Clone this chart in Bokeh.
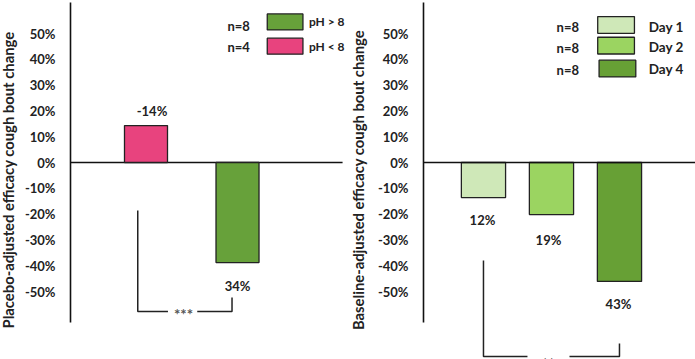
import math
from bokeh.plotting import figure
from bokeh.layouts import row
from bokeh.models import Range1d, FixedTicker, PrintfTickFormatter, Span
from bokeh.core.properties import value
from bokeh.embed import file_html
from bokeh.resources import INLINE

# ---------------- data ----------------
ticks = [-50, -40, -30, -20, -10, 0, 10, 20, 30, 40, 50]

# left panel (placebo-adjusted, by pH)
left_groups = ["pH < 8", "pH > 8"]
left_values = [14.3, -38.8]
left_labels = ["-14%", "34%"]
left_n = ["n=4", "n=8"]
left_colors = ["#E8437E", "#67A13A"]

# right panel (baseline-adjusted, by day)
right_groups = ["Day 1", "Day 2", "Day 4"]
right_values = [-13.6, -20.2, -46.1]
right_labels = ["12%", "19%", "43%"]
right_n = ["n=8", "n=8", "n=8"]
right_colors = ["#CFE8B8", "#9BD461", "#67A035"]

left_sig = "***"
right_sig = "**"

FONT = value("Lato")
TXT = "#222222"
PX_PER_UNIT = 2.58
ZERO_PX = 162
H = 359


def make_fig(width, frame_left, xr, ylabel, label_standoff):
    p = figure(width=width, height=H, output_backend="svg", toolbar_location=None,
               x_range=xr,
               y_range=Range1d((ZERO_PX - H) / PX_PER_UNIT, ZERO_PX / PX_PER_UNIT),
               x_axis_location=None, min_border_left=frame_left,
               min_border_top=0, min_border_bottom=0, min_border_right=0,
               outline_line_color=None, background_fill_color="white",
               border_fill_color="white")
    p.xgrid.visible = False
    p.ygrid.visible = False
    ax = p.yaxis[0]
    ax.ticker = FixedTicker(ticks=ticks)
    ax.formatter = PrintfTickFormatter(format="%d%%")
    ax.bounds = (-62, 62)
    ax.axis_line_color = "#111111"
    ax.axis_line_width = 1.6
    ax.major_tick_line_color = None
    ax.minor_tick_line_color = None
    ax.major_tick_out = 0
    ax.major_tick_in = 0
    ax.major_label_standoff = 15
    ax.major_label_text_font = "Lato"
    ax.major_label_text_font_style = "bold"
    ax.major_label_text_font_size = "13px"
    ax.major_label_text_color = TXT
    ax.axis_label = ylabel
    ax.axis_label_text_font = "Lato"
    ax.axis_label_text_font_style = "bold"
    ax.axis_label_text_font_size = "14.8px"
    ax.axis_label_text_color = TXT
    ax.axis_label_text_line_height = 0.8
    ax.axis_label_standoff = label_standoff
    return p


# ---------------- left panel ----------------
left = make_fig(351, 76, Range1d(0.175, 3.18), "Placebo-adjusted efficacy cough bout change", 5)
left.margin = (0, 0, 0, -6)
left.segment(x0=[0.175], y0=[0], x1=[3.148], y1=[0], line_color="#111111", line_width=1.6)
lx = [1, 2]
left.vbar(x=lx, top=left_values, bottom=0, width=0.47, fill_color=left_colors,
          line_color="#222222", line_width=1.3)
# value labels
left.text(x=lx, y=left_values, text=left_labels, x_offset=[6, 0], y_offset=[-15, 23],
          text_font=FONT, text_font_style="bold", text_font_size="13px", text_color=TXT,
          text_align="center", text_baseline="middle")
# legend (pH > 8 on top, pH < 8 below)
left_leg_y = [45.1, 54.5]
left.rect(x=[2.52, 2.52], y=left_leg_y, width=0.39, height=6.2, fill_color=left_colors,
          line_color="#222222", line_width=1.3)
left.text(x=[2.78, 2.78], y=left_leg_y, text=left_groups, text_font=FONT, text_font_style="bold",
          text_font_size="12px", text_color=TXT, text_align="left", text_baseline="middle")
left.text(x=[1.89, 1.89], y=[44.6, 53.1], text=left_n, text_font=FONT, text_font_style="bold",
          text_font_size="13px", text_color=TXT, text_align="left", text_baseline="middle")
# significance bracket
lb_x = [0.91, 1.94]
lb_top = [-18.6, -52.3]
lb_base = -57.8
left.multi_line(xs=[[lb_x[0], lb_x[0], 1.24], [1.56, lb_x[1], lb_x[1]]],
                ys=[[lb_top[0], lb_base, lb_base], [lb_base, lb_base, lb_top[1]]],
                line_color="#222222", line_width=1.5)
left.text(x=[1.41], y=[lb_base], text=[left_sig], y_offset=[2], text_font=FONT,
          text_font_size="15px", text_font_style="bold", text_color="#555555",
          text_align="center", text_baseline="middle")

# ---------------- right panel ----------------
right = make_fig(350, 78, Range1d(0.118, 4.118), "Baseline-adjusted efficacy cough bout change", 8)
right.add_layout(Span(location=0, dimension="width", line_color="#111111", line_width=1.6))
rx = [1, 2, 3]
right.vbar(x=rx, top=right_values, bottom=0, width=0.65, fill_color=right_colors,
           line_color="#222222", line_width=1.3)
right.text(x=rx, y=right_values, text=right_labels, x_offset=[-1, -3, -1], y_offset=[22, 25, 23],
           text_font=FONT, text_font_style="bold", text_font_size="13px", text_color=TXT,
           text_align="center", text_baseline="middle")
right_leg_y = [53.3, 45.3, 36.4]
right.rect(x=[2.95, 2.95, 2.97], y=right_leg_y, width=0.54, height=6.5, fill_color=right_colors,
           line_color="#222222", line_width=1.3)
right.text(x=[3.43] * 3, y=[52.7, 44.6, 36.4], text=right_groups, text_font=FONT,
           text_font_style="bold", text_font_size="13.5px", text_color=TXT, text_align="left",
           text_baseline="middle")
right.text(x=[2.24] * 3, y=[52.7, 44.2, 36.0], text=right_n, text_font=FONT,
           text_font_style="bold", text_font_size="13px", text_color=TXT, text_align="center",
           text_baseline="middle")
rb_x = [1.0, 3.0]
rb_top = [-38.0, -70.2]
rb_base = -75.2
right.multi_line(xs=[[rb_x[0], rb_x[0], 1.647], [2.265, rb_x[1], rb_x[1]]],
                 ys=[[rb_top[0], rb_base, rb_base], [rb_base, rb_base, rb_top[1]]],
                 line_color="#222222", line_width=1.5)
right.text(x=[1.956], y=[rb_base], text=[right_sig], y_offset=[6], text_font=FONT,
           text_font_size="15px", text_font_style="bold", text_color="#555555",
           text_align="center", text_baseline="middle")

layout = row(left, right)
open("out.html", "w").write(file_html(layout, INLINE))
